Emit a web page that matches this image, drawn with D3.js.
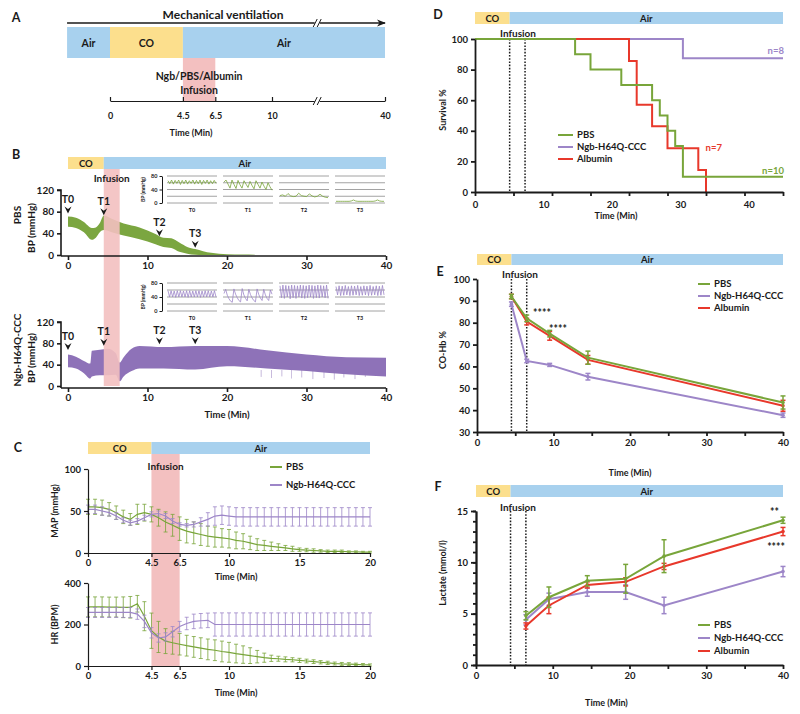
<!DOCTYPE html>
<html><head><meta charset="utf-8">
<script src="https://cdn.jsdelivr.net/npm/d3@7/dist/d3.min.js"></script>
<style>
body{margin:0;background:#fff;}
svg text{font-family:Lato,"Open Sans",sans-serif;font-weight:700;fill:#1a1a1a;}
</style></head><body>
<svg id="chart" width="800" height="714"></svg>
<script>
// ================= DATA =================
const phasesA = [["Air",-2.65,0],["CO",0,4.5],["Air",4.5,40]];
const phases40 = [["CO",0,4.5],["Air",4.5,40]];
const phases20 = [["CO",0,4.5],["Air",4.5,20]];
const infusion = [4.5, 6.5];
const ticksA = [0,4.5,6.5,10,40];
const ticksB = [0,10,20,30,40];
const ticksBY = [0,40,80,120];
const ticksC = [0,4.5,6.5,10,15,20];
const seriesNames = ["PBS","Ngb-H64Q-CCC","Albumin"];

// Panel B: blood pressure envelopes (mmHg)
const pbsBandT  = [0,1,2,3,3.5,4,4.5,5.5,7,9,11,12,13,14,15,16,17,18,19,20,22,23.5];
const pbsBandHi = [71,69,61,50,51,59,73,67,58,51,39,32,31,23,15,11,7,4,2.5,1.5,0.8,0.4];
const pbsBandLo = [52,50,42,28,32,42,46,42,36,29,20,15,13,6,2.5,0.5,0,0,0,0,0,0];
const ngbBandT  = [0,1,2,2.8,3,4,5,6,6.5,7,8,9,12,16,20,25,30,35,40];
const ngbBandHi = [59,55,47,42,66,68,70,62,44,54,70,75,73,75,75,67,59,54,53];
const ngbBandLo = [35,33,24,14,18,20,20,21,9,18,28,33,33,31,37,33,28,22,18];
const ngbSpikeT  = [24.3,25.6,26.9,28.1,29.4,30.8,32.2,33.5,34.7,36.1,37.4];
const ngbSpikeLo = [17,15,18,14,16,13,15,12,16,13,17];
const tLabels = ["T0","T1","T2","T3"];
const tTimes  = [0,4.5,11.5,16];
const tArrowPBS = [82,79,40,19];
const tArrowNgb = [73,81,84,84];

// Panel B insets: waveform samples (mmHg)
const insetPBS = [
  [66,57,68,56,67,58,68,55,67,57,68,56,66,58,68,56,67,57,68,55,67,58,68,56,66,57,67,58],
  [62,68,56,44,68,55,43,67,54,44,66,56,46,64,52,42,66,55,44,62,50,40,60,48,38],
  [22,24,20,28,21,19,20,29,22,20,19,27,21,18,20,26,20,17,16],
  [5,5,5,5,5,5,5,6,9,6,5,5,5,5,5,5,5,5,6,9,6,5,5]
];
const insetNgb = [
  [58,40,58,40,57,39,58,40,58,40,57,40,58,39,58,40,57,40,58,40,58,39,57,40,58,40,58,40,57,40,58,40],
  [50,62,45,35,28,25,63,48,38,30,26,64,46,36,29,62,47,37,30,26,63,47,37,30,62,46,36,30,60,48],
  [72,38,74,36,73,40,72,35,74,38,73,36,72,40,74,37,73,36,72,38,74,40,73,36,72,38,74,37,73,40,72,38,74,36],
  [70,46,72,44,71,45,73,46,70,44,72,45,71,46,73,44,70,45,72,46,71,44,73,45,70,46,72,44,71,45,73,46]
];
const insetGrid = [0,20,40,60,80];

// Panel C: MAP and HR, mean and SD every 0.5 min
const cTimes = [0,0.5,1,1.5,2,2.5,3,3.5,4,4.5,5,5.5,6,6.5,7,7.5,8,8.5,9,9.5,10,10.5,11,11.5,12,12.5,13,13.5,14,14.5,15,15.5,16,16.5,17,17.5,18,18.5,19,19.5,20];
const mapPBS   = [55,55,54,52,48,43,40,46,48,46,42,37,33,29,26,24,22,20,19,18,17,15,14,12,10,9,8,7,6,5,4,3.5,3,2.5,2,2,2,1.5,1.5,1,1];
const mapPBSsd = [9,9,9,8,8,8,7,12,10,9,10,12,13,14,14,13,13,12,12,11,11,10,9,8,7,6,5,4,3,3,2,2,2,1.5,1.5,1.5,1.5,1,1,1,1];
const mapNgb   = [52,52,50,48,44,39,36,38,42,46,47,44,38,34,33,34,37,40,44,45,44,43,43,43,43,43,43,43,43,43,43,43,43,43,43,43,43,43,43,43,43];
const mapNgbsd = [5,5,5,4,4,3,3,3,3,3,3,3,3,2,2,3,5,8,11,11,11,11,11,11,11,11,11,11,11,11,11,11,11,11,11,11,11,11,11,11,11];
const hrPBS    = [285,285,285,284,284,283,283,300,240,170,140,120,112,105,98,92,86,80,76,70,66,60,55,50,45,40,37,35,32,30,27,24,21,18,15,12,10,9,8,6,5];
const hrPBSsd  = [48,48,48,48,48,50,52,40,70,85,75,60,55,52,50,50,50,50,50,50,48,45,42,38,30,22,15,12,12,10,10,9,9,8,8,7,7,7,6,6,5];
const hrNgb    = [258,258,258,258,258,258,258,250,215,160,135,140,165,190,205,215,218,220,200,200,200,200,200,200,200,200,200,200,200,200,200,200,200,200,200,200,200,200,200,200,200];
const hrNgbsd  = [24,24,24,24,24,24,24,25,30,25,20,20,25,25,30,35,35,35,56,56,56,56,56,56,56,56,56,56,56,56,56,56,56,56,56,56,56,56,56,56,56];

// Panel D: survival (%)
const survPBS_t = [0,13,15,19,23,24,25,26,27,40];
const survPBS_v = [100,90,80,70,60,50,40,30,10,10];
const survNgb_t = [0,27,40];
const survNgb_v = [100,87.5,87.5];
const survAlb_t = [0,20,21,23,25,29,30];
const survAlb_v = [100,85.7,57.1,42.9,28.6,14.3,0];
const nLabels = ["n=10","n=8","n=7"];

// Panel E: CO-Hb %
const eTimes = [4.5,6.5,9.5,14.5,40];
const coPBS = [92,82,75,64,43.5],   coPBSerr = [1,1.5,1.5,3,3];
const coNgb = [88.5,62.5,60.7,55.3,37.7], coNgberr = [1,0.8,0.7,1.5,1];
const coAlb = [92,80.5,74,63,42],   coAlberr = [1,1.5,2,2,2.5];

// Panel F: lactate (mmol/l)
const fTimes = [6.5,9.5,14.5,19.5,24.5,40];
const lacPBS = [4.8,6.6,8.2,8.4,10.6,14.1], lacPBSerr = [0.4,1.0,0.5,1.4,1.6,0.3];
const lacNgb = [4.4,6.4,7.1,7.1,5.8,9.1],  lacNgberr = [0.5,0.6,0.4,0.7,0.8,0.5];
const lacAlb = [3.8,5.8,7.8,8.1,9.6,13.0], lacAlberr = [0.3,0.8,0.3,0.4,0.3,0.4];

// ================= STYLE =================
const GREEN="#78a53a", PURPLE="#9d86c8", RED="#e8382b";
const GREENBAND="#7ba640", PURPLEBAND="#8e72b8";
const BLUE="#a8d1ee", YELLOW="#fcdf8d", PINK="#f3c0c0";
const INK="#1a1a1a";
const TICK=9.5, TITLE=9;

const svg = d3.select("#chart");
svg.append("defs").append("marker").attr("id","arr").attr("viewBox","0 0 10 10")
  .attr("refX",9).attr("refY",5).attr("markerWidth",7).attr("markerHeight",7).attr("orient","auto")
  .append("path").attr("d","M0,1L10,5L0,9L3,5Z").attr("fill",INK);

function txt(x,y,s,size,opts={}){
  const t = svg.append("text").attr("x",x).attr("y",y).attr("font-size",size)
    .attr("text-anchor",opts.anchor||"middle").attr("dy",opts.dy||"0.35em").text(s);
  if(opts.fill) t.style("fill",opts.fill);
  if(opts.rotate) t.attr("transform",`rotate(-90,${x},${y})`);
  return t;
}
function styleAxis(g,size,sw){
  g.attr("font-family",null).attr("font-size",size);
  g.selectAll("text").style("font-weight","700");
  g.selectAll("path,line").attr("stroke",INK).attr("stroke-width",sw);
}
function phaseBar(x,y0,h,phases,size){
  phases.forEach(p=>{
    svg.append("rect").attr("x",x(p[1])).attr("y",y0).attr("width",x(p[2])-x(p[1])).attr("height",h)
      .attr("fill",p[0]==="CO"?YELLOW:BLUE);
    txt((x(p[1])+x(p[2]))/2,y0+h/2+0.5,p[0],size);
  });
}
function dotted(x,y0,y1){
  infusion.forEach(t=>{
    svg.append("line").attr("x1",x(t)).attr("x2",x(t)).attr("y1",y0).attr("y2",y1)
      .attr("stroke",INK).attr("stroke-width",1.5).attr("stroke-dasharray","1.6,1.6");
  });
}
function legend(x,ys,colors,names,size,len){
  names.forEach((n,i)=>{
    svg.append("line").attr("x1",x).attr("x2",x+len).attr("y1",ys[i]).attr("y2",ys[i]).attr("stroke",colors[i]).attr("stroke-width",2);
    txt(x+len+4,ys[i],n,size,{anchor:"start"});
  });
}

// ================= PANEL A =================
txt(16,18,"A",12.5);
const xA = d3.scaleLinear().domain([0,10,40]).range([110,272,385]);
txt(223,15,"Mechanical ventilation",12);
svg.append("line").attr("x1",xA(-2.65)).attr("x2",xA(40)).attr("y1",23).attr("y2",23)
  .attr("stroke",INK).attr("stroke-width",1.3).attr("marker-end","url(#arr)");
phaseBar(xA,27,31,phasesA,10.5);
svg.append("rect").attr("x",xA(infusion[0])).attr("y",58).attr("width",xA(infusion[1])-xA(infusion[0])).attr("height",43).attr("fill",PINK);
txt((xA(infusion[0])+xA(infusion[1]))/2,76,"Ngb/PBS/Albumin",10.5);
txt((xA(infusion[0])+xA(infusion[1]))/2,90,"Infusion",10.5);
const gA = svg.append("g").attr("transform","translate(0,101)")
  .call(d3.axisBottom(xA).tickValues(ticksA).tickFormat(d=>d).tickSizeInner(-4).tickSizeOuter(0).tickPadding(12));
styleAxis(gA,9,1.2);
txt(xA(5),133,"Time (Min)",9);
function breakMark(x,y){
  svg.append("rect").attr("x",x-2.5).attr("y",y-3).attr("width",5).attr("height",6).attr("fill","#fff");
  [-2,2].forEach(o=>svg.append("line").attr("x1",x+o-2).attr("x2",x+o+2).attr("y1",y+4).attr("y2",y-4).attr("stroke",INK).attr("stroke-width",1));
}
breakMark(xA(22),23);
breakMark(xA(22),101);

// ================= PANEL B =================
txt(16,155,"B",12.5);
const xB = d3.scaleLinear().domain([0,40]).range([68,386]);
const yB1 = d3.scaleLinear().domain([0,120]).range([255,190]);
const yB2 = d3.scaleLinear().domain([0,120]).range([386,322]);
phaseBar(xB,157,12,phases40,9.5);

// bands
svg.append("path").datum(pbsBandT.map((t,i)=>({t,hi:pbsBandHi[i],lo:pbsBandLo[i]})))
  .attr("d",d3.area().x(d=>xB(d.t)).y0(d=>yB1(d.lo)).y1(d=>yB1(d.hi)).curve(d3.curveMonotoneX))
  .attr("fill",GREENBAND);
svg.append("path").datum(ngbBandT.map((t,i)=>({t,hi:ngbBandHi[i],lo:ngbBandLo[i]})))
  .attr("d",d3.area().x(d=>xB(d.t)).y0(d=>yB2(d.lo)).y1(d=>yB2(d.hi)).curve(d3.curveMonotoneX))
  .attr("fill",PURPLEBAND);
ngbSpikeT.forEach((t,i)=>{
  svg.append("line").attr("x1",xB(t)).attr("x2",xB(t)).attr("y1",yB2(ngbSpikeLo[i])).attr("y2",yB2(30))
    .attr("stroke",PURPLEBAND).attr("stroke-width",0.7).attr("opacity",0.7);
});
svg.append("rect").attr("x",xB(infusion[0])).attr("y",169).attr("width",xB(infusion[1])-xB(infusion[0])).attr("height",386-169)
  .attr("fill",PINK).attr("opacity",0.9);
txt((xB(infusion[0])+xB(infusion[1]))/2,178,"Infusion",10);

// axes B
[[yB1,256],[yB2,388]].forEach(([ys,ay])=>{
  const gy = svg.append("g").attr("transform","translate(61,0)")
    .call(d3.axisLeft(ys).tickValues(ticksBY).tickSize(4).tickPadding(3));
  styleAxis(gy,TICK+0.5,1.6);
  gy.select(".domain").attr("d",`M-4,${ys(120)}H0V${ay}`);
  const gx = svg.append("g").attr("transform",`translate(0,${ay})`)
    .call(d3.axisBottom(xB).tickValues(ticksB).tickSize(4).tickPadding(2).tickSizeOuter(0));
  styleAxis(gx,TICK+0.5,1.6);
  gx.select(".domain").attr("d",`M61,0H${xB(40)}`);
});
txt(17,215,"PBS",10,{rotate:true});
txt(31,228,"BP (mmHg)",10,{rotate:true});
txt(17,350,"Ngb-H64Q-CCC",10,{rotate:true});
txt(31,358,"BP (mmHg)",10,{rotate:true});
txt(xB(20),415,"Time (Min)",9.5);

function tMarks(ys,vals){
  tTimes.forEach((t,i)=>{
    const X=xB(t), Y=ys(vals[i]);
    svg.append("path").attr("d",`M${X-3.5},${Y-4}L${X},${Y+3}L${X+3.5},${Y-4}L${X},${Y-1.5}Z`).attr("fill",INK);
    txt(X,Y-11,tLabels[i],10.5);
  });
}
tMarks(yB1,tArrowPBS);
tMarks(yB2,tArrowNgb);

function drawInset(top,bottom,traces,color){
  const y = d3.scaleLinear().domain([0,80]).range([bottom,top]);
  const x0=167, w=50, step=56;
  traces.forEach((tr,i)=>{
    const a=x0+i*step, b=a+w;
    insetGrid.forEach(v=>svg.append("line").attr("x1",a).attr("x2",b).attr("y1",y(v)).attr("y2",y(v))
      .attr("stroke","#8c8c8c").attr("stroke-width",0.8));
    const xs = d3.scaleLinear().domain([0,tr.length-1]).range([a+1,b-1]);
    svg.append("path").datum(tr).attr("d",d3.line().x((d,j)=>xs(j)).y(d=>y(d)))
      .attr("fill","none").attr("stroke",color).attr("stroke-width",0.8);
    txt((a+b)/2,bottom+7,tLabels[i],5.5);
  });
  const g = svg.append("g").attr("transform","translate(162,0)")
    .call(d3.axisLeft(y).tickValues([0,40,80]).tickSize(2.5).tickPadding(2).tickSizeOuter(0));
  styleAxis(g,5.5,1);
  txt(143,(top+bottom)/2,"BP (mmHg)",5,{rotate:true});
}
drawInset(176,203,insetPBS,GREEN);
drawInset(283,311,insetNgb,PURPLE);

// ================= PANEL C =================
txt(18,448,"C",12.5);
const xC = d3.scaleLinear().domain([0,20]).range([88,370]);
const yMAP = d3.scaleLinear().domain([0,100]).range([553,469]);
const yHR = d3.scaleLinear().domain([0,400]).range([666,583]);
phaseBar(xC,442,12,phases20,9.5);
svg.append("rect").attr("x",xC(infusion[0])).attr("y",454).attr("width",xC(infusion[1])-xC(infusion[0])).attr("height",666-454).attr("fill",PINK);
txt((xC(infusion[0])+xC(infusion[1]))/2,466,"Infusion",10);

function errSeries(ys,mean,sd,color,cap,sw){
  cTimes.forEach((t,i)=>{
    const X=xC(t), y1=ys(mean[i]+sd[i]), y0=ys(Math.max(0,mean[i]-sd[i]));
    svg.append("line").attr("x1",X).attr("x2",X).attr("y1",y1).attr("y2",y0).attr("stroke",color).attr("stroke-width",sw);
    [y1,y0].forEach(yy=>svg.append("line").attr("x1",X-cap).attr("x2",X+cap).attr("y1",yy).attr("y2",yy).attr("stroke",color).attr("stroke-width",sw));
  });
  svg.append("path").datum(mean).attr("d",d3.line().x((d,i)=>xC(cTimes[i])).y(d=>ys(d)))
    .attr("fill","none").attr("stroke",color).attr("stroke-width",1.2);
}
errSeries(yMAP,mapPBS,mapPBSsd,GREEN,2,0.8);
errSeries(yMAP,mapNgb,mapNgbsd,PURPLE,2,0.8);
errSeries(yHR,hrPBS,hrPBSsd,GREEN,2,0.8);
errSeries(yHR,hrNgb,hrNgbsd,PURPLE,2,0.8);

[[yMAP,[0,50,100],553,577,"MAP (mmHg)"],[yHR,[0,200,400],666,693,"HR (BPM)"]].forEach(([ys,tv,ay,ty,lab])=>{
  const gy = svg.append("g").attr("transform",`translate(${xC(0)},0)`)
    .call(d3.axisLeft(ys).tickValues(tv).tickSize(4).tickPadding(3).tickSizeOuter(0));
  styleAxis(gy,TICK,1.2);
  const gx = svg.append("g").attr("transform",`translate(0,${ay})`)
    .call(d3.axisBottom(xC).tickValues(ticksC).tickFormat(d=>d).tickSize(4).tickPadding(2).tickSizeOuter(0));
  styleAxis(gx,TICK,1.2);
  txt(xC(10.5),ty,"Time (Min)",TITLE);
  txt(55,(ys.range()[0]+ys.range()[1])/2,lab,TITLE,{rotate:true});
});
legend(270,[467,485],[GREEN,PURPLE],seriesNames.slice(0,2),9.5,12);

// ================= PANEL D =================
txt(438,15,"D",12.5);
const xD = d3.scaleLinear().domain([0,40]).range([475,783]);
const xDlab = d3.scaleLinear().domain([0,45]).range([475,783]);
const yD = d3.scaleLinear().domain([0,100]).range([192,39]);
phaseBar(xD,12,12,phases40,9.5);
txt(518,33,"Infusion",10);
dotted(xD,39,192);
const stepLine = (xs,ys)=>d3.line().x(d=>xs(d[0])).y(d=>ys(d[1])).curve(d3.curveStepAfter);
[[survNgb_t,survNgb_v,PURPLE],[survAlb_t,survAlb_v,RED],[survPBS_t,survPBS_v,GREEN]].forEach(([ts,vs,c])=>{
  svg.append("path").datum(ts.map((t,i)=>[t,vs[i]])).attr("d",stepLine(xD,yD))
    .attr("fill","none").attr("stroke",c).attr("stroke-width",2);
});
{
  const gy = svg.append("g").attr("transform",`translate(${xD(0)},0)`)
    .call(d3.axisLeft(yD).tickValues([0,20,40,60,80,100]).tickSize(4).tickPadding(3).tickSizeOuter(0));
  styleAxis(gy,TICK,1.8);
  const gx = svg.append("g").attr("transform","translate(0,192)")
    .call(d3.axisBottom(xD).tickValues([0,5,10,15,20,25,30,35,40]).tickFormat("").tickSize(4).tickSizeOuter(0));
  styleAxis(gx,TICK,1.8);
  const gl = svg.append("g").attr("transform","translate(0,192)")
    .call(d3.axisBottom(xDlab).tickValues(ticksB).tickSize(0).tickPadding(9));
  styleAxis(gl,TICK,1.8);
  gl.select(".domain").remove();
}
txt(616,216,"Time (Min)",TITLE);
txt(443,110,"Survival %",TITLE,{rotate:true});
legend(558,[135,147,159],[GREEN,PURPLE,RED],seriesNames,9.5,15);
txt(784,171,nLabels[0],9.5,{anchor:"end",fill:GREEN});
txt(784,51,nLabels[1],9.5,{anchor:"end",fill:PURPLE});
txt(722,148,nLabels[2],9.5,{anchor:"end",fill:RED});

// ================= PANEL E / F helpers =================
function errPlot(xs,ys,times,vals,errs,color){
  svg.append("path").datum(vals).attr("d",d3.line().x((d,i)=>xs(times[i])).y(d=>ys(d)))
    .attr("fill","none").attr("stroke",color).attr("stroke-width",2);
  times.forEach((t,i)=>{
    const X=xs(t), y1=ys(vals[i]+errs[i]), y0=ys(vals[i]-errs[i]);
    svg.append("line").attr("x1",X).attr("x2",X).attr("y1",y1).attr("y2",y0).attr("stroke",color).attr("stroke-width",1.5);
    [y1,y0].forEach(yy=>svg.append("line").attr("x1",X-2.5).attr("x2",X+2.5).attr("y1",yy).attr("y2",yy).attr("stroke",color).attr("stroke-width",1.5));
    svg.append("circle").attr("cx",X).attr("cy",ys(vals[i])).attr("r",1.8).attr("fill",color);
  });
}

// ================= PANEL E =================
txt(440,272,"E",12.5);
const xE = d3.scaleLinear().domain([0,40]).range([477,783]);
const yE = d3.scaleLinear().domain([30,100]).range([432,279]);
phaseBar(xE,254,11,phases40,9.5);
txt(520,274,"Infusion",10);
dotted(xE,279,432);
errPlot(xE,yE,eTimes,coNgb,coNgberr,PURPLE);
errPlot(xE,yE,eTimes,coAlb,coAlberr,RED);
errPlot(xE,yE,eTimes,coPBS,coPBSerr,GREEN);
{
  const gy = svg.append("g").attr("transform",`translate(${xE(0)},0)`)
    .call(d3.axisLeft(yE).tickValues([30,40,50,60,70,80,90,100]).tickSize(4).tickPadding(3).tickSizeOuter(0));
  styleAxis(gy,TICK,1.8);
  const gx = svg.append("g").attr("transform","translate(0,432)")
    .call(d3.axisBottom(xE).tickValues([0,5,10,15,20,25,30,35,40]).tickFormat(d=>d%10===0?d:"").tickSize(4).tickPadding(3).tickSizeOuter(0));
  styleAxis(gx,TICK,1.8);
}
txt(xE(20),473,"Time (Min)",TITLE);
txt(443,350,"CO-Hb %",TITLE,{rotate:true});
legend(698,[284,296,308],[GREEN,PURPLE,RED],seriesNames,9.5,12);
txt(542,313,"****",10.5);
txt(558,329,"****",10.5);

// ================= PANEL F =================
txt(438,487,"F",12.5);
const xF = d3.scaleLinear().domain([0,40]).range([476,783]);
const yF = d3.scaleLinear().domain([0,15]).range([665,511]);
phaseBar(xF,485,12,phases40,9.5);
txt(518,507,"Infusion",10);
dotted(xF,511,665);
errPlot(xF,yF,fTimes,lacNgb,lacNgberr,PURPLE);
errPlot(xF,yF,fTimes,lacAlb,lacAlberr,RED);
errPlot(xF,yF,fTimes,lacPBS,lacPBSerr,GREEN);
{
  const gm = svg.append("g").attr("transform",`translate(${xF(0)},0)`)
    .call(d3.axisLeft(yF).tickValues(d3.range(0,16,1)).tickFormat("").tickSize(3).tickSizeOuter(0));
  styleAxis(gm,TICK,1.8);
  const gy = svg.append("g").attr("transform",`translate(${xF(0)},0)`)
    .call(d3.axisLeft(yF).tickValues([0,5,10,15]).tickSize(5).tickPadding(3).tickSizeOuter(0));
  styleAxis(gy,TICK,1.8);
  const gx = svg.append("g").attr("transform","translate(0,665)")
    .call(d3.axisBottom(xF).tickValues([0,5,10,15,20,25,30,35,40]).tickFormat(d=>d%10===0?d:"").tickSize(4).tickPadding(3).tickSizeOuter(0));
  styleAxis(gx,TICK,1.8);
}
txt(xF(17),703,"Time (Min)",TITLE);
txt(443,573,"Lactate (mmol/l)",TITLE,{rotate:true});
legend(698,[625,638,651],[GREEN,PURPLE,RED],seriesNames,9.5,12);
txt(779,512,"**",10.5,{anchor:"end"});
txt(785,547,"****",10.5,{anchor:"end"});
</script></body></html>
